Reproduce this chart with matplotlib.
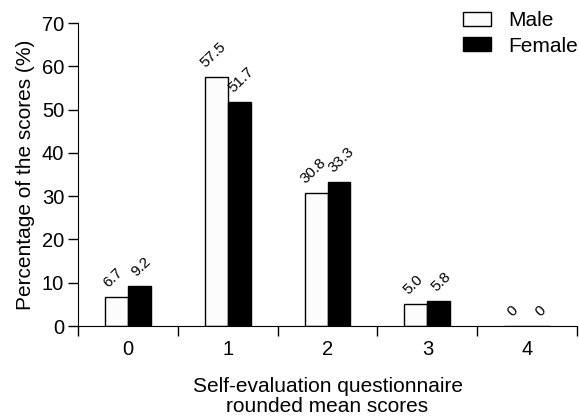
import matplotlib.pyplot as plt
import numpy as np

plt.rcParams['font.family'] = ['Liberation Sans', 'DejaVu Sans']

categories = ['0', '1', '2', '3', '4']
male = [6.7, 57.5, 30.8, 5.0, 0]
female = [9.2, 51.7, 33.3, 5.8, 0]
male_labels = ['6.7', '57.5', '30.8', '5.0', '0']
female_labels = ['9.2', '51.7', '33.3', '5.8', '0']

x = np.arange(len(categories))
w = 0.23

fig = plt.figure(figsize=(5.79, 4.16), dpi=100)
ax = fig.add_axes([0.1347, 0.2163, 0.862, 0.7284])

ax.bar(x - w / 2, male, w, color='#fcfcfc', edgecolor='black', linewidth=1, label='Male')
ax.bar(x + w / 2, female, w, color='black', edgecolor='black', linewidth=1, label='Female')

# value labels, tilted, just above each bar
for xi, v, t in zip(x - w / 2, male, male_labels):
    ax.text(xi - 0.03, v + 1.6, t, rotation=44, ha='center', va='bottom', fontsize=11)
for xi, v, t in zip(x + w / 2, female, female_labels):
    ax.text(xi + 0.02, v + 1.6, t, rotation=44, ha='center', va='bottom', fontsize=11)

ax.set_xlim(-0.5, 4.5)
ax.set_ylim(0, 70)
ax.set_yticks(np.arange(0, 71, 10))
ax.set_xticks(np.arange(-0.5, 4.6, 1))
ax.set_xticklabels([])
ax.set_xticks(x, minor=True)
ax.set_xticklabels(categories, minor=True)
ax.tick_params(axis='x', which='minor', length=0, labelsize=14.5, pad=10)
ax.tick_params(axis='x', which='major', length=7, width=1)
ax.tick_params(axis='y', length=7, width=1, labelsize=14.5, pad=3)

for s in ['top', 'right']:
    ax.spines[s].set_visible(False)

ax.set_ylabel('Percentage of the scores (%)', fontsize=15, labelpad=5)
ax.set_xlabel('Self-evaluation questionnaire\nrounded mean scores', fontsize=15, labelpad=13,
              linespacing=1.1)

ax.legend(loc='upper right', bbox_to_anchor=(1.04, 1.10), frameon=False, fontsize=15,
          handlelength=1.35, handleheight=0.65, handletextpad=0.85, labelspacing=0.3)

fig.savefig('out.png', dpi=100, facecolor='white')
